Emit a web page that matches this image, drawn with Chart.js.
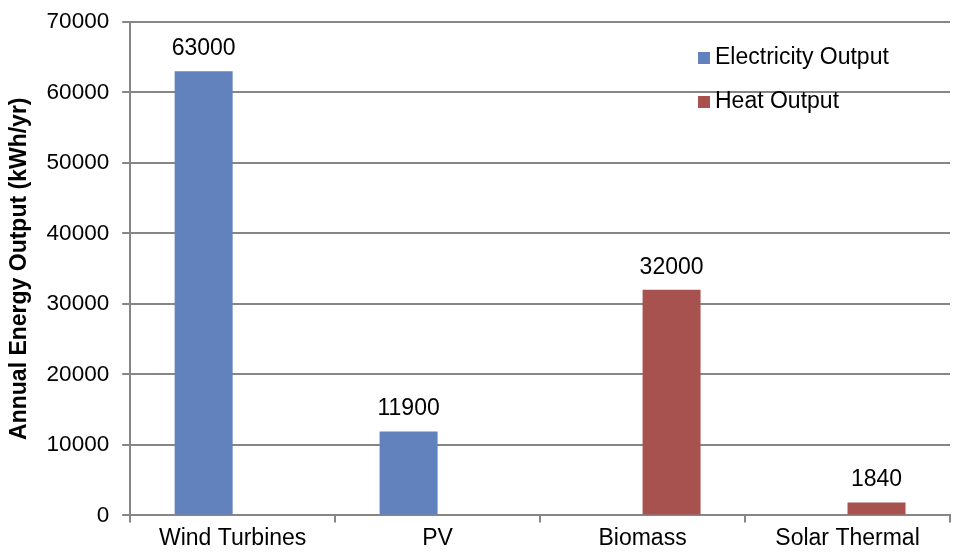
<!DOCTYPE html>
<html>
<head>
<meta charset="utf-8">
<script src="https://cdn.jsdelivr.net/npm/chart.js@4.4.0/dist/chart.umd.min.js"></script>
<style>
  html, body { margin: 0; padding: 0; background: #fff; overflow: hidden; }
  #wrap { width: 957px; height: 554px; }
</style>
</head>
<body>
<div id="wrap"><canvas id="myChart"></canvas></div>
<script>
// categories and values
const categories = ["Wind Turbines", "PV", "Biomass", "Solar Thermal"];
const electricity = [63000, 11900, 0, 0];
const heat = [0, 0, 32000, 1840];
const yTicks = [0, 10000, 20000, 30000, 40000, 50000, 60000, 70000];

const FONT = "'Liberation Sans', Arial, sans-serif";

// value labels above the bars
const barLabels = {
  id: "barLabels",
  afterDatasetsDraw(chart) {
    const ctx = chart.ctx;
    ctx.save();
    ctx.font = "23px " + FONT;
    ctx.fillStyle = "#000";
    ctx.textAlign = "center";
    ctx.textBaseline = "bottom";
    chart.data.datasets.forEach((ds, i) => {
      chart.getDatasetMeta(i).data.forEach((bar, j) => {
        if (!ds.data[j]) return;
        ctx.fillText(ds.data[j], bar.x, bar.y - 11);
      });
    });
    ctx.restore();
  }
};

// legend inside the plot, top right
const insideLegend = {
  id: "insideLegend",
  afterDraw(chart) {
    const ctx = chart.ctx;
    ctx.save();
    ctx.font = "23px " + FONT;
    ctx.textBaseline = "middle";
    chart.data.datasets.forEach((ds, i) => {
      const y = 58 + i * 44;
      ctx.fillStyle = ds.backgroundColor;
      ctx.fillRect(698, y - 6, 12, 12);
      ctx.fillStyle = "#000";
      ctx.fillText(ds.label, 715, y);
    });
    ctx.restore();
  }
};

new Chart(document.getElementById("myChart"), {
  type: "bar",
  data: {
    labels: categories,
    datasets: [
      { label: "Electricity Output", data: electricity, backgroundColor: "#6282bd" },
      { label: "Heat Output", data: heat, backgroundColor: "#a8524f" }
    ]
  },
  options: {
    responsive: true,
    maintainAspectRatio: false,
    animation: false,
    categoryPercentage: 0.566,
    barPercentage: 1,
    layout: { padding: { top: 22, right: 7, left: 6, bottom: 0 } },
    plugins: {
      legend: { display: false },
      tooltip: { enabled: false }
    },
    scales: {
      x: {
        grid: { offset: true, drawOnChartArea: false, color: "#868686", lineWidth: 2, tickLength: 7 },
        border: { color: "#868686", width: 2 },
        ticks: { color: "#000", font: { family: FONT, size: 23 }, padding: 2 }
      },
      y: {
        min: 0,
        max: 70000,
        afterBuildTicks(scale) { scale.ticks = yTicks.map(v => ({ value: v })); },
        afterFit(scale) { scale.paddingTop = 0; scale.paddingBottom = 0; },
        grid: { color: "#868686", lineWidth: 2, tickLength: 8 },
        border: { color: "#868686", width: 2 },
        ticks: { color: "#000", font: { family: FONT, size: 22.5 }, padding: 13, callback: v => String(v) },
        title: {
          display: true,
          text: "Annual Energy Output (kWh/yr)",
          color: "#000",
          font: { family: FONT, size: 23, weight: "bold" },
          padding: { top: 0, bottom: 0 }
        }
      }
    }
  },
  plugins: [barLabels, insideLegend]
});
</script>
</body>
</html>
